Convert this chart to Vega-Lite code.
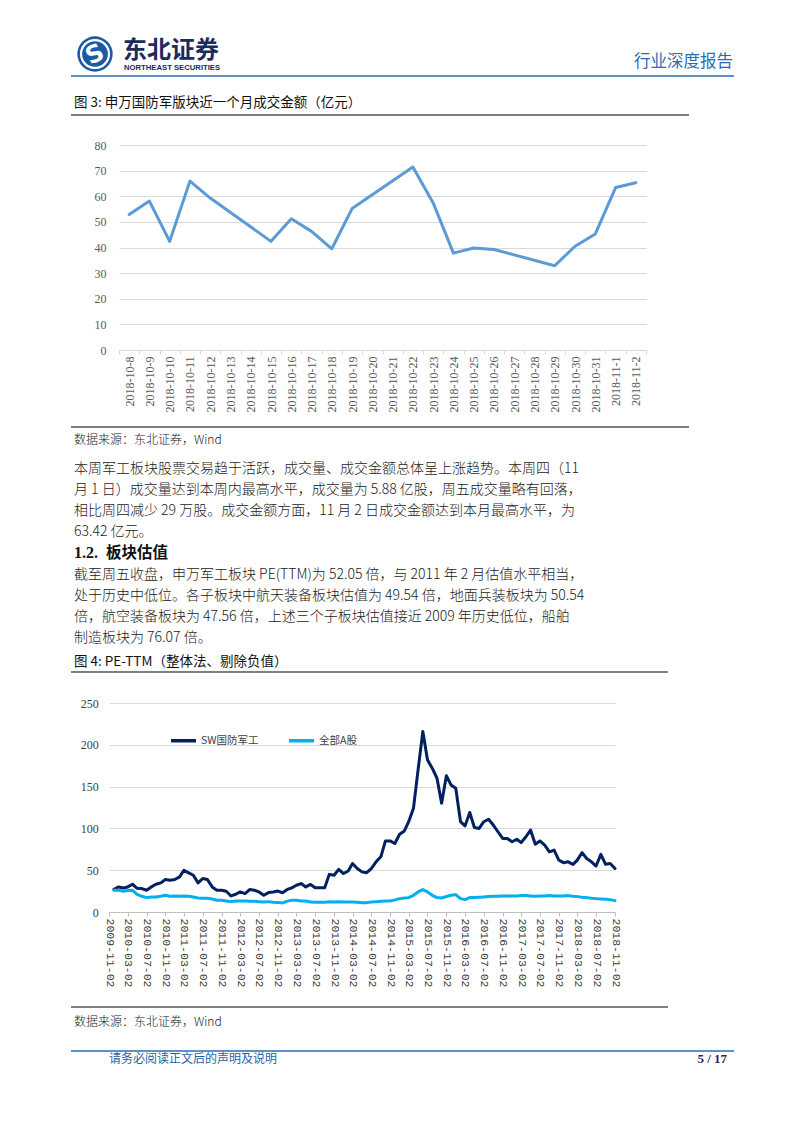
{
  "$schema": "https://vega.github.io/schema/vega-lite/v6.json",
  "padding": 0,
  "background": "white",
  "spacing": 0,
  "bounds": "flush",
  "config": {"view": {"stroke": null}, "font": "Noto Sans CJK SC"},
  "vconcat": [
    {
      "width": 793,
      "height": 145,
      "data": {"values": [{}]},
      "layer": [
        {"mark": {"type": "circle", "size": 1250, "color": "#1d5aa5", "opacity": 1}, "encoding": {"x": {"value": 89}, "y": {"value": 54}}},
        {"mark": {"type": "point", "shape": "circle", "size": 780, "filled": false, "color": "white", "strokeWidth": 2.2, "opacity": 1}, "encoding": {"x": {"value": 89}, "y": {"value": 54}}},
        {"mark": {"type": "text", "text": "S", "font": "DejaVu Sans", "fontWeight": "bold", "fontSize": 24, "color": "white", "angle": -25, "align": "center", "baseline": "middle"}, "encoding": {"x": {"value": 89}, "y": {"value": 55}}},
        {"mark": {"type": "text", "text": "东北证券", "font": "Noto Sans CJK SC", "fontWeight": "bold", "fontSize": 24, "color": "#1b2b5e", "align": "left", "baseline": "middle"}, "encoding": {"x": {"value": 117}, "y": {"value": 51}}},
        {"mark": {"type": "text", "text": "NORTHEAST SECURITIES", "font": "Liberation Sans", "fontWeight": "bold", "fontSize": 7.7, "color": "#1b2b5e", "align": "left", "baseline": "middle"}, "encoding": {"x": {"value": 118}, "y": {"value": 68}}},
        {"mark": {"type": "text", "text": "行业深度报告", "font": "Noto Sans CJK SC", "fontSize": 16.5, "color": "#2a6db5", "align": "right", "baseline": "middle"}, "encoding": {"x": {"value": 727}, "y": {"value": 62}}},
        {"mark": {"type": "rule", "color": "#2a6db5", "strokeWidth": 1.5}, "encoding": {"x": {"value": 65}, "x2": {"value": 728}, "y": {"value": 76}}},
        {"mark": {"type": "text", "text": "图 3:  申万国防军版块近一个月成交金额（亿元）", "font": "Noto Sans CJK SC", "fontSize": 13.5, "color": "#111111", "align": "left", "baseline": "middle"}, "encoding": {"x": {"value": 68}, "y": {"value": 103}}},
        {"mark": {"type": "rule", "color": "#000000", "strokeWidth": 1.2}, "encoding": {"x": {"value": 65}, "x2": {"value": 683}, "y": {"value": 115}}}
      ]
    },
    {
      "width": 793,
      "height": 205,
      "data": {"values": [
        {"date": "2018-10-8", "v": 52.9},
        {"date": "2018-10-9", "v": 58.1},
        {"date": "2018-10-10", "v": 42.4},
        {"date": "2018-10-11", "v": 65.9},
        {"date": "2018-10-12", "v": 59.3},
        {"date": "2018-10-15", "v": 42.4},
        {"date": "2018-10-16", "v": 51.2},
        {"date": "2018-10-17", "v": 46.3},
        {"date": "2018-10-18", "v": 39.5},
        {"date": "2018-10-19", "v": 55.2},
        {"date": "2018-10-22", "v": 71.4},
        {"date": "2018-10-23", "v": 57.4},
        {"date": "2018-10-24", "v": 37.8},
        {"date": "2018-10-25", "v": 39.8},
        {"date": "2018-10-26", "v": 39.2},
        {"date": "2018-10-29", "v": 32.9},
        {"date": "2018-10-30", "v": 40.5},
        {"date": "2018-10-31", "v": 45.3},
        {"date": "2018-11-1", "v": 63.4},
        {"date": "2018-11-2", "v": 65.3}
      ]},
      "mark": {"type": "line", "color": "#5B9BD5", "strokeWidth": 3, "strokeJoin": "round", "strokeCap": "round"},
      "encoding": {
        "x": {
          "field": "date", "type": "ordinal",
          "sort": ["2018-10-8","2018-10-9","2018-10-10","2018-10-11","2018-10-12","2018-10-13","2018-10-14","2018-10-15","2018-10-16","2018-10-17","2018-10-18","2018-10-19","2018-10-20","2018-10-21","2018-10-22","2018-10-23","2018-10-24","2018-10-25","2018-10-26","2018-10-27","2018-10-28","2018-10-29","2018-10-30","2018-10-31","2018-11-1","2018-11-2"],
          "scale": {"type": "band", "domain": ["2018-10-8","2018-10-9","2018-10-10","2018-10-11","2018-10-12","2018-10-13","2018-10-14","2018-10-15","2018-10-16","2018-10-17","2018-10-18","2018-10-19","2018-10-20","2018-10-21","2018-10-22","2018-10-23","2018-10-24","2018-10-25","2018-10-26","2018-10-27","2018-10-28","2018-10-29","2018-10-30","2018-10-31","2018-11-1","2018-11-2"], "range": [113, 640], "paddingInner": 0, "paddingOuter": 0},
          "axis": {"title": null, "labelAngle": -90, "labelFont": "Liberation Serif", "labelFontSize": 12, "labelColor": "#595959", "tickBand": "extent", "tickSize": 4, "tickColor": "#d9d9d9", "domainColor": "#d9d9d9", "labelPadding": 2, "grid": false, "labelOverlap": false}
        },
        "y": {
          "field": "v", "type": "quantitative",
          "scale": {"domain": [0, 80], "nice": false},
          "axis": {"title": null, "values": [0, 10, 20, 30, 40, 50, 60, 70, 80], "offset": -113, "domain": false, "ticks": false, "tickSize": 0, "labelPadding": 13, "labelFont": "Liberation Serif", "labelFontSize": 12, "labelColor": "#595959", "gridColor": "#d9d9d9", "gridWidth": 1}
        }
      }
    },
    {
      "width": 793,
      "height": 353,
      "data": {"values": [{}]},
      "layer": [
        {"mark": {"type": "rule", "color": "#000000", "strokeWidth": 1.2}, "encoding": {"x": {"value": 65}, "x2": {"value": 683}, "y": {"value": 77}}},
        {"mark": {"type": "text", "text": "数据来源：东北证券，Wind", "font": "Noto Sans CJK SC", "fontWeight": 300, "fontSize": 12, "color": "#222222", "align": "left", "baseline": "middle"}, "encoding": {"x": {"value": 68}, "y": {"value": 90}}},
        {"mark": {"type": "text", "text": ["本周军工板块股票交易趋于活跃，成交量、成交金额总体呈上涨趋势。本周四（11", "月 1 日）成交量达到本周内最高水平，成交量为 5.88 亿股，周五成交量略有回落，", "相比周四减少 29 万股。成交金额方面，11 月 2 日成交金额达到本月最高水平，为", "63.42 亿元。"], "lineHeight": 21, "font": "Noto Sans CJK SC", "fontWeight": 300, "fontSize": 14, "color": "#1a1a1a", "align": "left", "baseline": "top"}, "encoding": {"x": {"value": 68}, "y": {"value": 112}}},
        {"mark": {"type": "text", "text": "1.2.", "font": "Liberation Serif", "fontWeight": "bold", "fontSize": 16, "color": "#111111", "align": "left", "baseline": "middle"}, "encoding": {"x": {"value": 68}, "y": {"value": 203}}},
        {"mark": {"type": "text", "text": "板块估值", "font": "Noto Sans CJK SC", "fontWeight": "bold", "fontSize": 15.5, "color": "#111111", "align": "left", "baseline": "middle"}, "encoding": {"x": {"value": 100}, "y": {"value": 203}}},
        {"mark": {"type": "text", "text": ["截至周五收盘，申万军工板块 PE(TTM)为 52.05 倍，与 2011 年 2 月估值水平相当，", "处于历史中低位。各子板块中航天装备板块估值为 49.54 倍，地面兵装板块为 50.54", "倍，航空装备板块为 47.56 倍，上述三个子板块估值接近 2009 年历史低位，船舶", "制造板块为 76.07 倍。"], "lineHeight": 21, "font": "Noto Sans CJK SC", "fontWeight": 300, "fontSize": 14, "color": "#1a1a1a", "align": "left", "baseline": "top"}, "encoding": {"x": {"value": 68}, "y": {"value": 218}}},
        {"mark": {"type": "text", "text": "图 4:  PE-TTM（整体法、剔除负值）", "font": "Noto Sans CJK SC", "fontSize": 13.5, "color": "#111111", "align": "left", "baseline": "middle"}, "encoding": {"x": {"value": 68}, "y": {"value": 312}}},
        {"mark": {"type": "rule", "color": "#000000", "strokeWidth": 1.2}, "encoding": {"x": {"value": 65}, "x2": {"value": 662}, "y": {"value": 322}}}
      ]
    },
    {
      "width": 793,
      "height": 209,
      "data": {"values": [
        {"d": "2009-12-02", "SW国防军工": 27.2, "全部A股": 26},
        {"d": "2010-01-02", "SW国防军工": 30, "全部A股": 26},
        {"d": "2010-02-02", "SW国防军工": 28.8, "全部A股": 24.8},
        {"d": "2010-03-02", "SW国防军工": 30, "全部A股": 25.6},
        {"d": "2010-04-02", "SW国防军工": 33.2, "全部A股": 26},
        {"d": "2010-05-02", "SW国防军工": 28.4, "全部A股": 21.2},
        {"d": "2010-06-02", "SW国防军工": 28, "全部A股": 18.8},
        {"d": "2010-07-02", "SW国防军工": 26, "全部A股": 17.2},
        {"d": "2010-08-02", "SW国防军工": 30, "全部A股": 18},
        {"d": "2010-09-02", "SW国防军工": 33.2, "全部A股": 18},
        {"d": "2010-10-02", "SW国防军工": 34.8, "全部A股": 18.8},
        {"d": "2010-11-02", "SW国防军工": 38.8, "全部A股": 20},
        {"d": "2010-12-02", "SW国防军工": 38, "全部A股": 18.8},
        {"d": "2011-01-02", "SW国防军工": 38.8, "全部A股": 19.2},
        {"d": "2011-02-02", "SW国防军工": 42, "全部A股": 18.8},
        {"d": "2011-03-02", "SW国防军工": 50, "全部A股": 19.2},
        {"d": "2011-04-02", "SW国防军工": 46.8, "全部A股": 18.8},
        {"d": "2011-05-02", "SW国防军工": 44, "全部A股": 18},
        {"d": "2011-06-02", "SW国防军工": 34.8, "全部A股": 16.8},
        {"d": "2011-07-02", "SW国防军工": 40, "全部A股": 16.4},
        {"d": "2011-08-02", "SW国防军工": 38.8, "全部A股": 16.4},
        {"d": "2011-09-02", "SW国防军工": 30, "全部A股": 15.6},
        {"d": "2011-10-02", "SW国防军工": 26, "全部A股": 14},
        {"d": "2011-11-02", "SW国防军工": 26, "全部A股": 14},
        {"d": "2011-12-02", "SW国防军工": 24.8, "全部A股": 13.2},
        {"d": "2012-01-02", "SW国防军工": 19.2, "全部A股": 12.4},
        {"d": "2012-02-02", "SW国防军工": 21.2, "全部A股": 13.2},
        {"d": "2012-03-02", "SW国防军工": 24, "全部A股": 13.2},
        {"d": "2012-04-02", "SW国防军工": 22, "全部A股": 13.2},
        {"d": "2012-05-02", "SW国防军工": 26.8, "全部A股": 12.8},
        {"d": "2012-06-02", "SW国防军工": 26, "全部A股": 12.8},
        {"d": "2012-07-02", "SW国防军工": 24, "全部A股": 12.4},
        {"d": "2012-08-02", "SW国防军工": 20, "全部A股": 12},
        {"d": "2012-09-02", "SW国防军工": 23.2, "全部A股": 12.4},
        {"d": "2012-10-02", "SW国防军工": 24, "全部A股": 11.6},
        {"d": "2012-11-02", "SW国防军工": 25, "全部A股": 11.5},
        {"d": "2012-12-02", "SW国防军工": 23, "全部A股": 10.8},
        {"d": "2013-01-02", "SW国防军工": 27, "全部A股": 13},
        {"d": "2013-02-02", "SW国防军工": 29, "全部A股": 14},
        {"d": "2013-03-02", "SW国防军工": 32, "全部A股": 14},
        {"d": "2013-04-02", "SW国防军工": 34, "全部A股": 13.2},
        {"d": "2013-05-02", "SW国防军工": 30, "全部A股": 13.2},
        {"d": "2013-06-02", "SW国防军工": 33, "全部A股": 12},
        {"d": "2013-07-02", "SW国防军工": 29, "全部A股": 11.6},
        {"d": "2013-08-02", "SW国防军工": 29, "全部A股": 11.6},
        {"d": "2013-09-02", "SW国防军工": 29, "全部A股": 11.8},
        {"d": "2013-10-02", "SW国防军工": 45, "全部A股": 12.4},
        {"d": "2013-11-02", "SW国防军工": 44, "全部A股": 12},
        {"d": "2013-12-02", "SW国防军工": 51, "全部A股": 12.4},
        {"d": "2014-01-02", "SW国防军工": 46, "全部A股": 12},
        {"d": "2014-02-02", "SW国防军工": 49, "全部A股": 12},
        {"d": "2014-03-02", "SW国防军工": 58, "全部A股": 12},
        {"d": "2014-04-02", "SW国防军工": 52, "全部A股": 11.6},
        {"d": "2014-05-02", "SW国防军工": 48, "全部A股": 11.2},
        {"d": "2014-06-02", "SW国防军工": 47, "全部A股": 11.2},
        {"d": "2014-07-02", "SW国防军工": 52, "全部A股": 12},
        {"d": "2014-08-02", "SW国防军工": 60, "全部A股": 12.4},
        {"d": "2014-09-02", "SW国防军工": 66, "全部A股": 12.8},
        {"d": "2014-10-02", "SW国防军工": 85, "全部A股": 13.2},
        {"d": "2014-11-02", "SW国防军工": 85, "全部A股": 13.2},
        {"d": "2014-12-02", "SW国防军工": 82, "全部A股": 14.5},
        {"d": "2015-01-02", "SW国防军工": 93, "全部A股": 16},
        {"d": "2015-02-02", "SW国防军工": 97, "全部A股": 16.8},
        {"d": "2015-03-02", "SW国防军工": 108, "全部A股": 17.2},
        {"d": "2015-04-02", "SW国防军工": 124, "全部A股": 20},
        {"d": "2015-05-02", "SW国防军工": 170, "全部A股": 24},
        {"d": "2015-06-02", "SW国防军工": 216, "全部A股": 26.8},
        {"d": "2015-07-02", "SW国防军工": 182, "全部A股": 24},
        {"d": "2015-08-02", "SW国防军工": 172, "全部A股": 20},
        {"d": "2015-09-02", "SW国防军工": 160, "全部A股": 17.2},
        {"d": "2015-10-02", "SW国防军工": 130, "全部A股": 16.8},
        {"d": "2015-11-02", "SW国防军工": 163, "全部A股": 18.5},
        {"d": "2015-12-02", "SW国防军工": 152, "全部A股": 20},
        {"d": "2016-01-02", "SW国防军工": 148, "全部A股": 20.8},
        {"d": "2016-02-02", "SW国防军工": 108, "全部A股": 16},
        {"d": "2016-03-02", "SW国防军工": 103, "全部A股": 14.8},
        {"d": "2016-04-02", "SW国防军工": 119, "全部A股": 17.2},
        {"d": "2016-05-02", "SW国防军工": 101, "全部A股": 17.2},
        {"d": "2016-06-02", "SW国防军工": 100, "全部A股": 17.6},
        {"d": "2016-07-02", "SW国防军工": 108, "全部A股": 18},
        {"d": "2016-08-02", "SW国防军工": 111, "全部A股": 18.4},
        {"d": "2016-09-02", "SW国防军工": 104, "全部A股": 18.8},
        {"d": "2016-10-02", "SW国防军工": 96, "全部A股": 18.8},
        {"d": "2016-11-02", "SW国防军工": 88, "全部A股": 19.2},
        {"d": "2016-12-02", "SW国防军工": 88, "全部A股": 19.2},
        {"d": "2017-01-02", "SW国防军工": 84, "全部A股": 19.2},
        {"d": "2017-02-02", "SW国防军工": 87, "全部A股": 19.2},
        {"d": "2017-03-02", "SW国防军工": 83, "全部A股": 19.6},
        {"d": "2017-04-02", "SW国防军工": 90, "全部A股": 19.6},
        {"d": "2017-05-02", "SW国防军工": 98, "全部A股": 19.2},
        {"d": "2017-06-02", "SW国防军工": 81, "全部A股": 18.8},
        {"d": "2017-07-02", "SW国防军工": 85, "全部A股": 19.2},
        {"d": "2017-08-02", "SW国防军工": 80, "全部A股": 19.2},
        {"d": "2017-09-02", "SW国防军工": 72, "全部A股": 19.6},
        {"d": "2017-10-02", "SW国防军工": 74, "全部A股": 19.2},
        {"d": "2017-11-02", "SW国防军工": 62, "全部A股": 19.2},
        {"d": "2017-12-02", "SW国防军工": 59, "全部A股": 19.2},
        {"d": "2018-01-02", "SW国防军工": 60, "全部A股": 19.6},
        {"d": "2018-02-02", "SW国防军工": 57, "全部A股": 18.8},
        {"d": "2018-03-02", "SW国防军工": 62, "全部A股": 18.4},
        {"d": "2018-04-02", "SW国防军工": 71, "全部A股": 17.6},
        {"d": "2018-05-02", "SW国防军工": 64, "全部A股": 17.2},
        {"d": "2018-06-02", "SW国防军工": 60, "全部A股": 16.4},
        {"d": "2018-07-02", "SW国防军工": 55, "全部A股": 16},
        {"d": "2018-08-02", "SW国防军工": 69, "全部A股": 15.6},
        {"d": "2018-09-02", "SW国防军工": 57, "全部A股": 15.2},
        {"d": "2018-10-02", "SW国防军工": 58, "全部A股": 14.8},
        {"d": "2018-11-02", "SW国防军工": 52, "全部A股": 13.6}
      ]},
      "transform": [{"fold": ["SW国防军工", "全部A股"], "as": ["series", "value"]}],
      "mark": {"type": "line", "strokeWidth": 3, "strokeJoin": "round", "strokeCap": "round"},
      "encoding": {
        "x": {
          "field": "d", "type": "temporal",
          "scale": {"type": "utc", "domain": [{"year": 2009, "month": 11, "date": 2, "utc": true}, {"year": 2018, "month": 11, "date": 2, "utc": true}], "range": [103.3, 609]},
          "axis": {
            "title": null, "format": "%Y-%m-%d", "labelAngle": 90, "labelFont": "Liberation Mono", "labelFontSize": 11.5, "labelColor": "#404040", "tickSize": 4, "tickColor": "#bfbfbf", "domainColor": "#bfbfbf", "labelPadding": 2, "grid": false, "labelOverlap": false, "labelFlush": false,
            "values": [
              {"year": 2009, "month": 11, "date": 2, "utc": true},
              {"year": 2010, "month": 3, "date": 2, "utc": true},
              {"year": 2010, "month": 7, "date": 2, "utc": true},
              {"year": 2010, "month": 11, "date": 2, "utc": true},
              {"year": 2011, "month": 3, "date": 2, "utc": true},
              {"year": 2011, "month": 7, "date": 2, "utc": true},
              {"year": 2011, "month": 11, "date": 2, "utc": true},
              {"year": 2012, "month": 3, "date": 2, "utc": true},
              {"year": 2012, "month": 7, "date": 2, "utc": true},
              {"year": 2012, "month": 11, "date": 2, "utc": true},
              {"year": 2013, "month": 3, "date": 2, "utc": true},
              {"year": 2013, "month": 7, "date": 2, "utc": true},
              {"year": 2013, "month": 11, "date": 2, "utc": true},
              {"year": 2014, "month": 3, "date": 2, "utc": true},
              {"year": 2014, "month": 7, "date": 2, "utc": true},
              {"year": 2014, "month": 11, "date": 2, "utc": true},
              {"year": 2015, "month": 3, "date": 2, "utc": true},
              {"year": 2015, "month": 7, "date": 2, "utc": true},
              {"year": 2015, "month": 11, "date": 2, "utc": true},
              {"year": 2016, "month": 3, "date": 2, "utc": true},
              {"year": 2016, "month": 7, "date": 2, "utc": true},
              {"year": 2016, "month": 11, "date": 2, "utc": true},
              {"year": 2017, "month": 3, "date": 2, "utc": true},
              {"year": 2017, "month": 7, "date": 2, "utc": true},
              {"year": 2017, "month": 11, "date": 2, "utc": true},
              {"year": 2018, "month": 3, "date": 2, "utc": true},
              {"year": 2018, "month": 7, "date": 2, "utc": true},
              {"year": 2018, "month": 11, "date": 2, "utc": true}
            ]
          }
        },
        "y": {
          "field": "value", "type": "quantitative",
          "scale": {"domain": [0, 250], "nice": false},
          "axis": {"title": null, "values": [0, 50, 100, 150, 200, 250], "offset": -103.3, "domain": false, "ticks": false, "tickSize": 0, "labelPadding": 11, "labelFont": "Liberation Serif", "labelFontSize": 12, "labelColor": "#404040", "gridColor": "#d9d9d9", "gridWidth": 1}
        },
        "color": {
          "field": "series", "type": "nominal",
          "scale": {"domain": ["SW国防军工", "全部A股"], "range": ["#002060", "#00B0F0"]},
          "legend": {"orient": "none", "legendX": 163, "legendY": 726, "direction": "horizontal", "title": null, "padding": 0, "symbolType": "stroke", "symbolSize": 625, "symbolStrokeWidth": 3.5, "labelFont": "Noto Sans CJK SC", "labelFontSize": 10.5, "labelColor": "#404040", "labelOffset": 3, "columnPadding": 23}
        }
      }
    },
    {
      "width": 793,
      "height": 210,
      "data": {"values": [{}]},
      "layer": [
        {"mark": {"type": "rule", "color": "#000000", "strokeWidth": 1.2}, "encoding": {"x": {"value": 65}, "x2": {"value": 662}, "y": {"value": 95}}},
        {"mark": {"type": "text", "text": "数据来源：东北证券，Wind", "font": "Noto Sans CJK SC", "fontWeight": 300, "fontSize": 12, "color": "#222222", "align": "left", "baseline": "middle"}, "encoding": {"x": {"value": 68}, "y": {"value": 110}}},
        {"mark": {"type": "rule", "color": "#2a6db5", "strokeWidth": 1.5}, "encoding": {"x": {"value": 65}, "x2": {"value": 728}, "y": {"value": 139}}},
        {"mark": {"type": "text", "text": "请务必阅读正文后的声明及说明", "font": "Noto Sans CJK SC", "fontSize": 12, "color": "#1f5fa8", "align": "left", "baseline": "middle"}, "encoding": {"x": {"value": 103}, "y": {"value": 147}}},
        {"mark": {"type": "text", "text": "5 / 17", "font": "Liberation Serif", "fontWeight": "bold", "fontSize": 13, "color": "#1b2b5e", "align": "right", "baseline": "middle"}, "encoding": {"x": {"value": 721}, "y": {"value": 147}}}
      ]
    }
  ]
}
